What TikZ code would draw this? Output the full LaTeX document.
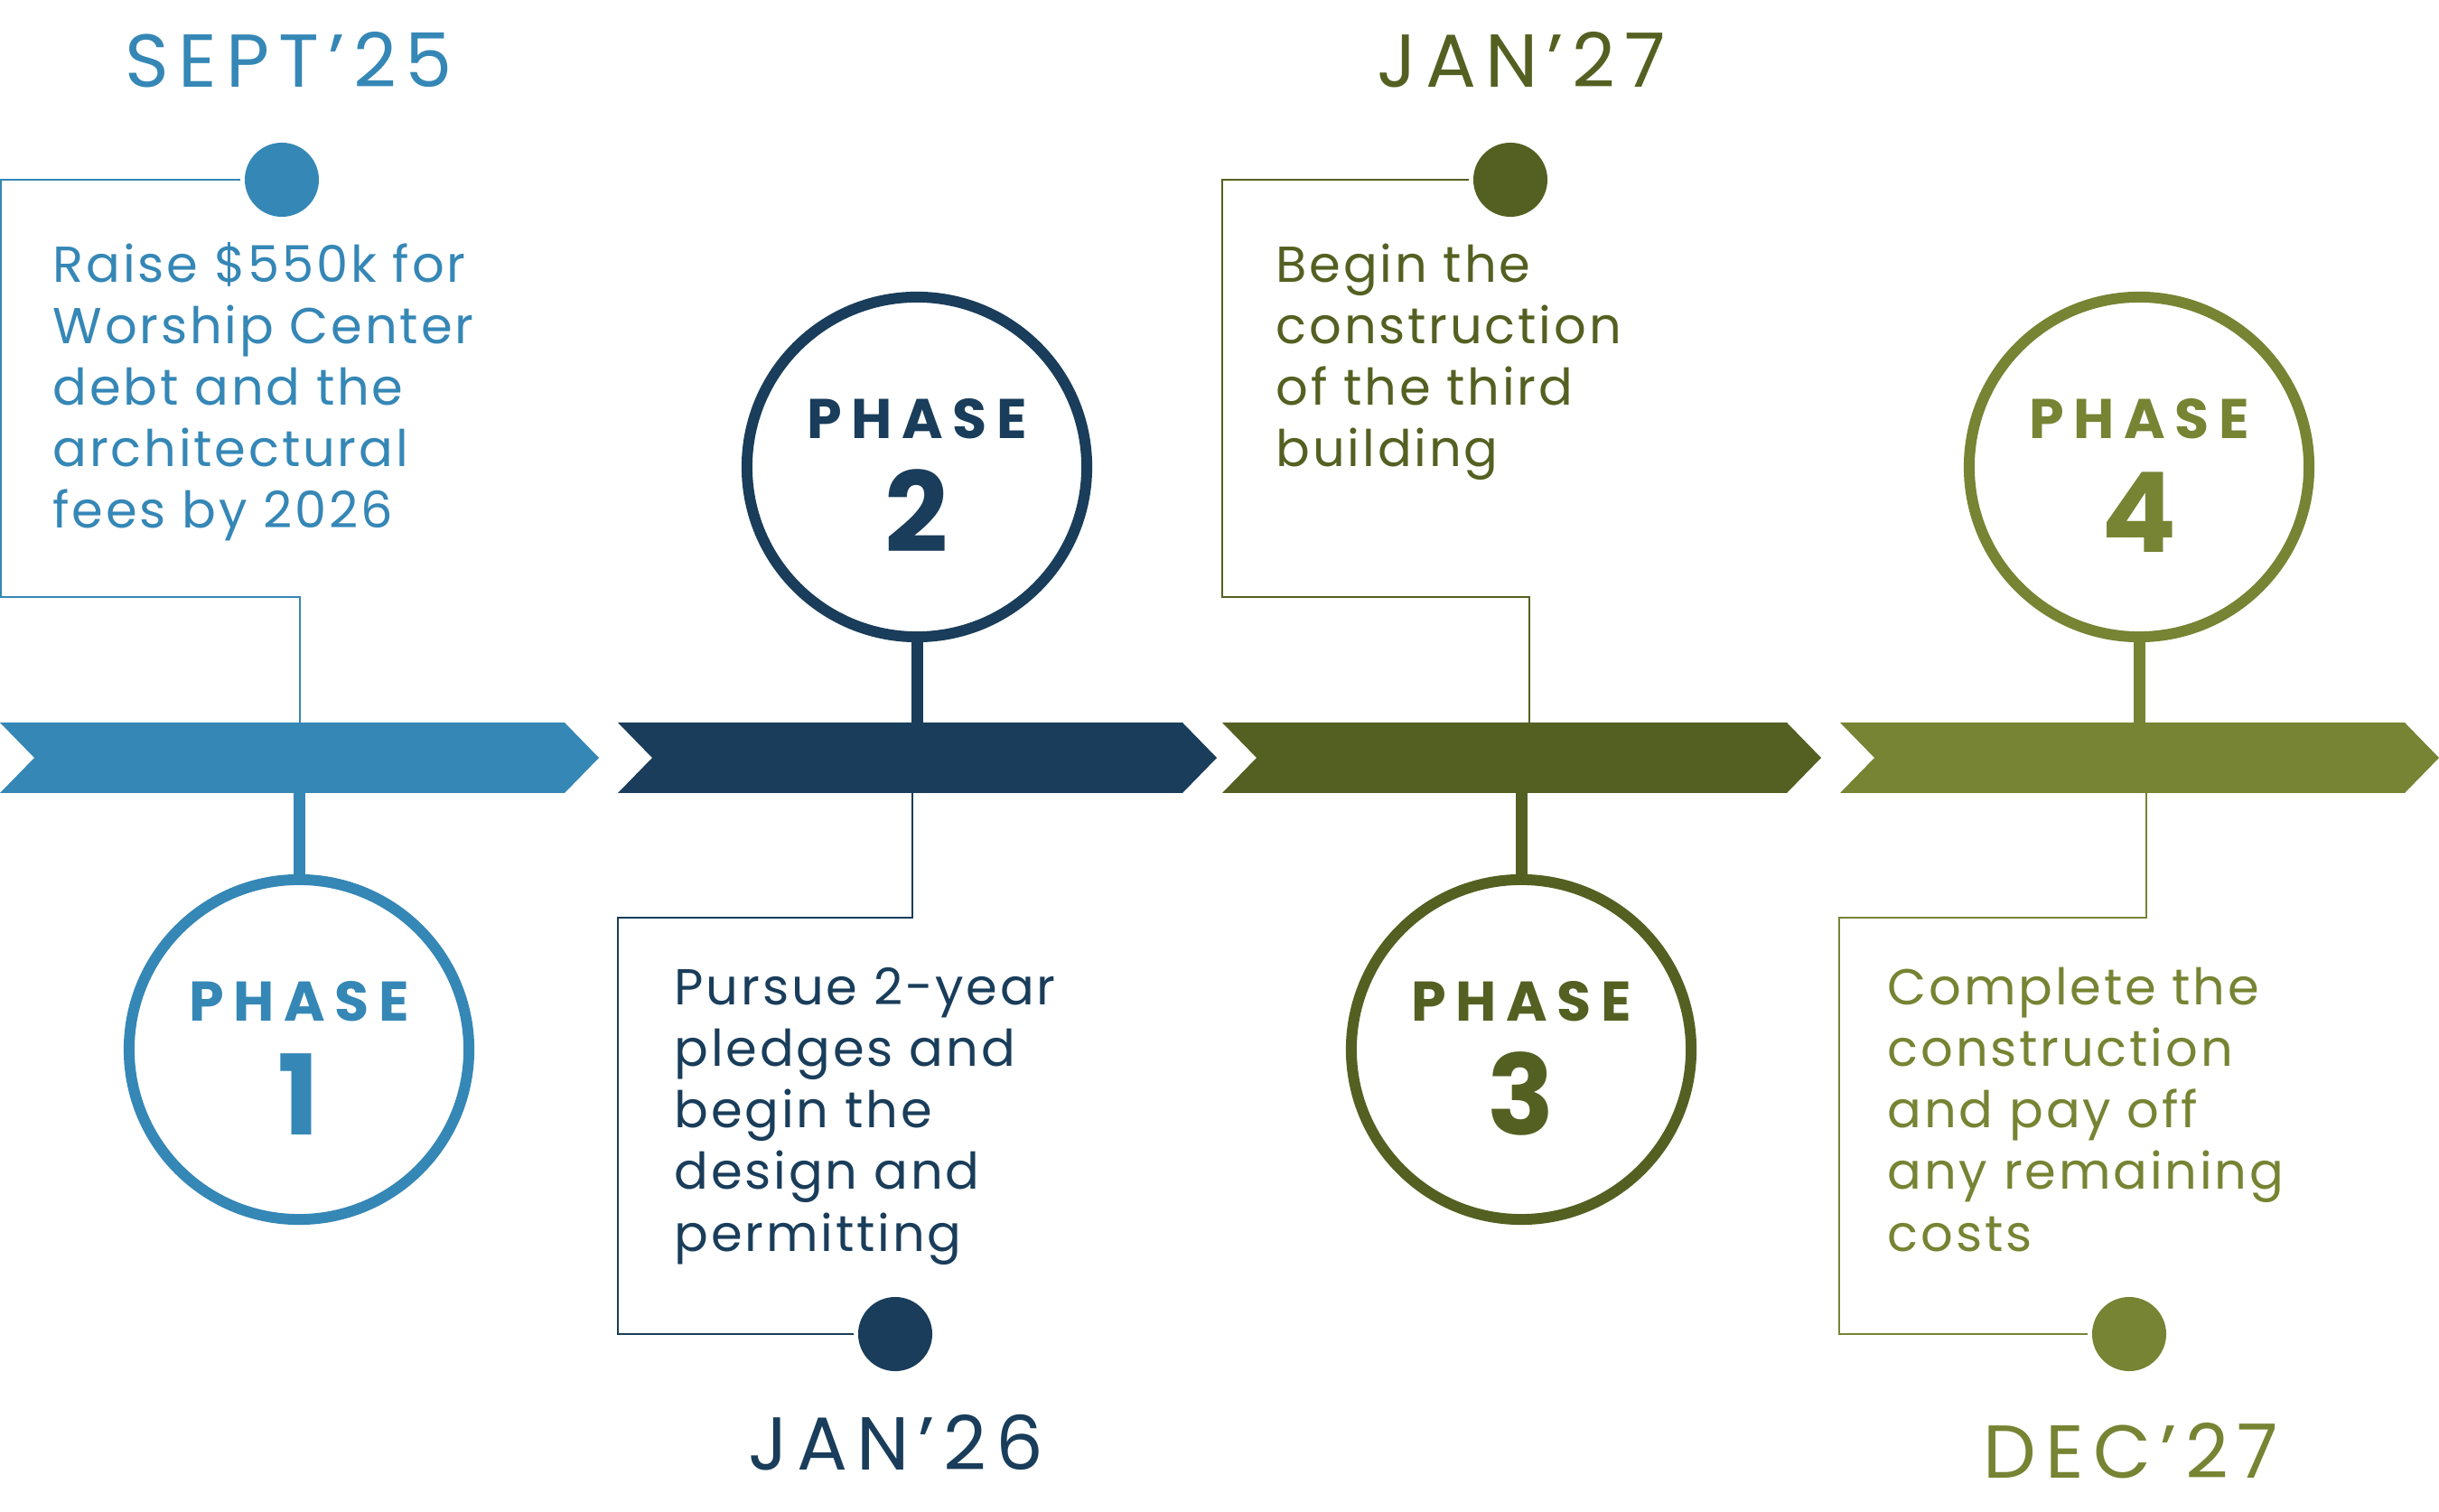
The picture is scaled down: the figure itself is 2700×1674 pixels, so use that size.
\documentclass[tikz,border=0pt]{standalone}
\usepackage{fontspec}
\setmainfont{Poppins}[LetterSpace=5]
\newfontfamily\datefont{Poppins}[LetterSpace=12]
\newfontfamily\phasefont{Poppins}[LetterSpace=17]
\usetikzlibrary{positioning}
\definecolor{phaseA}{RGB}{53,135,182}
\definecolor{phaseB}{RGB}{25,61,90}
\definecolor{phaseC}{RGB}{84,96,33}
\definecolor{phaseD}{RGB}{118,132,51}

\begin{document}
\begin{tikzpicture}[x=0.01cm, y=-0.01cm,
  ring/.style={circle, draw=#1, fill=white, line width=0.12cm, minimum size=3.76cm, inner sep=0pt},
  dot/.style={circle, fill=#1, minimum size=0.82cm, inner sep=0pt},
  stem/.style={draw=#1, line width=0.13cm},
  link/.style={draw=#1, line width=0.025cm},
  datelbl/.style={text=#1, font=\datefont\fontsize{23.6}{28}\selectfont, anchor=base, inner sep=0pt},
  note/.style={text=#1, font=\fontsize{15.9}{19.35}\selectfont, anchor=base west, align=left, inner sep=0pt},
  phaselbl/.style={text=#1, font=\phasefont\bfseries\fontsize{17.6}{20}\selectfont, anchor=base, inner sep=0pt},
  phasenum/.style={text=#1, font=\bfseries\fontsize{35}{40}\selectfont, anchor=base, inner sep=0pt}]
  \useasboundingbox (0,0) rectangle (2700,1674);

  % dates and dots
  \node[datelbl=phaseA] (date1) at (320,97) {SEPT’25};
  \node[datelbl=phaseC] (date3) at (1684,97) {JAN’27};
  \node[datelbl=phaseB] (date2) at (992,1627) {JAN’26};
  \node[datelbl=phaseD] (date4) at (2359,1636) {DEC’27};
  \node[dot=phaseA] (d1) at (312,199) {};
  \node[dot=phaseC] (d3) at (1672,199) {};
  \node[dot=phaseB] (d2) at (991,1477) {};
  \node[dot=phaseD] (d4) at (2357,1477) {};

  % where the lines meet the bar
  \coordinate (t1) at (332,800);
  \coordinate (t3) at (1693,800);
  \coordinate (b2) at (1010,878);
  \coordinate (b4) at (2376,878);

  % thin connectors
  \draw[link=phaseA, shorten <=0.04cm] (d1.west) -| (1,661) -| (t1);
  \draw[link=phaseC, shorten <=0.04cm] (d3.west) -| (1353,661) -| (t3);
  \draw[link=phaseB, shorten >=0.04cm] (b2) |- (684,1016) |- (d2.west);
  \draw[link=phaseD, shorten >=0.04cm] (b4) |- (2036,1016) |- (d4.west);

  % rings
  \node[ring=phaseA] (p1) at (331,1162) {};
  \node[ring=phaseB] (p2) at (1015,517) {};
  \node[ring=phaseC] (p3) at (1684,1162) {};
  \node[ring=phaseD] (p4) at (2368,517) {};
  \coordinate (s1) at (331,878);
  \coordinate (s2) at (1015,800);
  \coordinate (s3) at (1684,878);
  \coordinate (s4) at (2368,800);
  \draw[stem=phaseA] (p1.north) -- (s1);
  \draw[stem=phaseB] (p2.south) -- (s2);
  \draw[stem=phaseC] (p3.north) -- (s3);
  \draw[stem=phaseD] (p4.south) -- (s4);

  % the bar
  \foreach \xa/\col in {0/phaseA, 684/phaseB, 1353/phaseC, 2037/phaseD}
    \fill[\col] (\xa,800) -- ++(625,0) -- ++(38,39) -- ++(-38,39) -- ++(-625,0) -- ++(38,-39) -- cycle;

  % ring labels
  \foreach \p/\n/\col in {p1/1/phaseA, p2/2/phaseB, p3/3/phaseC, p4/4/phaseD} {
    \node[phaselbl=\col] (\p-lbl) at ([yshift=0.31cm]\p.center) {PHASE};
    \node[phasenum=\col] (\p-num) at ([yshift=-0.94cm]\p.center) {\n};
  }

  % notes (placed at the baseline of their last line)
  \node[note=phaseA] (n1) at (58,585) {Raise \$550k for\\Worship Center\\debt and the\\architectural\\fees by 2026};
  \node[note=phaseC] (n3) at (1412,517) {Begin the\\construction\\of the third\\building};
  \node[note=phaseB] (n2) at (746,1385) {Pursue 2-year\\pledges and\\begin the\\design and\\permitting};
  \node[note=phaseD] (n4) at (2089,1385) {Complete the\\construction\\and pay off\\any remaining\\costs};
\end{tikzpicture}
\end{document}
